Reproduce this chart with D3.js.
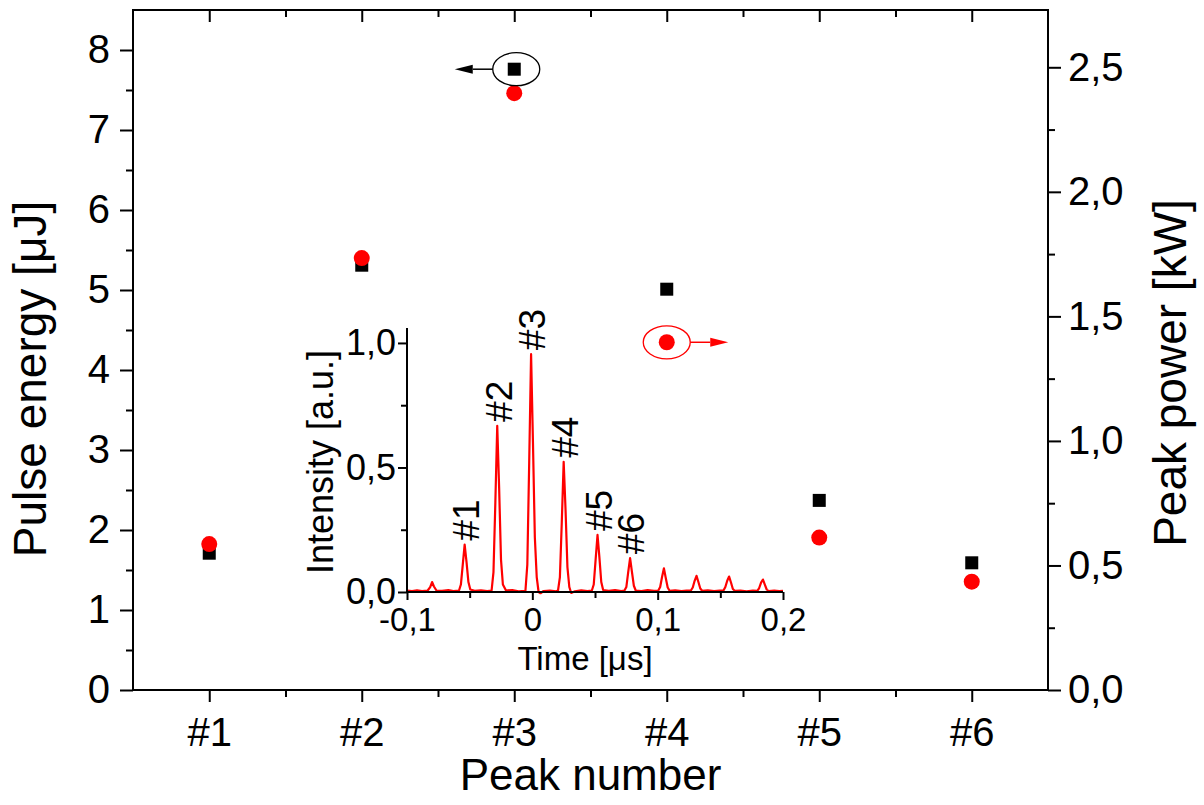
<!DOCTYPE html>
<html>
<head>
<meta charset="utf-8">
<script src="https://cdn.jsdelivr.net/npm/d3@7"></script>
<style>
  html, body { margin: 0; padding: 0; background: #fff; }
  svg text { font-family: "Liberation Sans", Arial, sans-serif; fill: #000; }
</style>
</head>
<body>
<svg id="chart" width="1204" height="805"></svg>
<script>
// Pulse energy (left axis, µJ) and peak power (right axis, kW) per peak
const categories = ["#1", "#2", "#3", "#4", "#5", "#6"];
const pulseEnergy = [1.71, 5.31, 7.76, 5.01, 2.37, 1.59];
const peakPower = [0.586, 1.734, 2.396, 1.396, 0.612, 0.435];
const energyTicks = [0, 1, 2, 3, 4, 5, 6, 7, 8];
const powerTicks = [0, 0.5, 1.0, 1.5, 2.0, 2.5];

// Inset: oscilloscope trace of the pulse train
const traceTime = [
  -0.100, -0.096, -0.092, -0.088, -0.0835, -0.0815, -0.080, -0.0785, -0.0765,
  -0.072, -0.067, -0.063, -0.0585, -0.057, -0.0555, -0.054, -0.0525, -0.051, -0.0495,
  -0.046, -0.041, -0.036, -0.0325, -0.031, -0.0295, -0.028, -0.0265, -0.025, -0.0235,
  -0.021, -0.016, -0.011, -0.0055, -0.004, -0.0025, -0.001, 0.0005, 0.002, 0.0035, 0.005, 0.0065,
  0.009, 0.014, 0.019, 0.0205, 0.022, 0.0235, 0.025, 0.0265, 0.028, 0.0295, 0.031,
  0.034, 0.039, 0.044, 0.0475, 0.049, 0.0505, 0.052, 0.0535, 0.055, 0.0565,
  0.061, 0.066, 0.071, 0.0735, 0.075, 0.0765, 0.078, 0.0795, 0.081, 0.0825,
  0.087, 0.092, 0.097, 0.1005, 0.102, 0.1035, 0.105, 0.1065, 0.108, 0.1095,
  0.114, 0.119, 0.123, 0.1265, 0.128, 0.1295, 0.131, 0.1325, 0.134, 0.1355,
  0.140, 0.145, 0.1495, 0.1525, 0.154, 0.1555, 0.157, 0.1585, 0.160, 0.1615,
  0.166, 0.171, 0.176, 0.1795, 0.181, 0.1825, 0.184, 0.1855, 0.187, 0.1885,
  0.193, 0.197, 0.200
];
const traceIntensity = [
  0.006, 0.004, 0.007, 0.004, 0.006, 0.020, 0.040, 0.022, 0.006,
  0.005, 0.008, 0.004, 0.006, 0.030, 0.110, 0.190, 0.120, 0.040, 0.010,
  0.005, 0.007, 0.004, 0.006, 0.080, 0.360, 0.667, 0.420, 0.130, 0.030,
  0.006, 0.008, 0.003, 0.005, 0.110, 0.520, 0.955, 0.600, 0.220, 0.060, 0.000, -0.005,
  0.004, 0.006, 0.003, 0.006, 0.060, 0.280, 0.523, 0.330, 0.100, 0.020, -0.004,
  0.003, 0.007, 0.004, 0.006, 0.030, 0.130, 0.229, 0.140, 0.040, 0.008,
  0.005, 0.008, 0.004, 0.006, 0.020, 0.080, 0.136, 0.080, 0.025, 0.006,
  0.004, 0.008, 0.005, 0.006, 0.020, 0.060, 0.095, 0.055, 0.018, 0.005,
  0.007, 0.004, 0.006, 0.006, 0.018, 0.045, 0.065, 0.040, 0.014, 0.005,
  0.007, 0.004, 0.006, 0.006, 0.020, 0.045, 0.062, 0.038, 0.012, 0.005,
  0.006, 0.003, 0.006, 0.005, 0.016, 0.038, 0.050, 0.030, 0.010, 0.004,
  0.006, 0.004, 0.005
];
const peakLabels = ["#1", "#2", "#3", "#4", "#5", "#6"];
const peakTimes = [-0.054, -0.028, -0.001, 0.025, 0.052, 0.078];
const peakHeights = [0.190, 0.667, 0.955, 0.523, 0.229, 0.136];
const timeTicks = [-0.1, 0, 0.1, 0.2];
const intensityTicks = [0, 0.5, 1.0];

const RED = "#ff0000";
const svg = d3.select("#chart");
svg.append("rect").attr("width", 1204).attr("height", 805).attr("fill", "#fff");

const comma1 = d => d.toFixed(1).replace(".", ",");

// ---------- main plot ----------
const plot = { left: 133, right: 1048, top: 10, bottom: 690 };
const x = d3.scaleLinear().domain([0.5, 6.5]).range([plot.left, plot.right]);
const yL = d3.scaleLinear().domain([0, 8.5]).range([plot.bottom, plot.top]);
const yR = d3.scaleLinear().domain([0, 2.73]).range([plot.bottom, plot.top]);

function styleAxis(g, fontSize) {
  g.select(".domain").remove();
  g.selectAll(".tick line").attr("stroke", "#000").attr("stroke-width", 2);
  g.selectAll(".tick text").attr("font-size", fontSize)
    .attr("font-family", "'Liberation Sans', Arial, sans-serif").attr("fill", "#000");
}

const catIdx = d3.range(1, 7);
const halfIdx = d3.range(1.5, 6, 1);

// bottom
svg.append("g").attr("transform", `translate(0,${plot.bottom})`)
  .call(d3.axisBottom(x).tickValues(catIdx).tickSize(12).tickPadding(16)
    .tickFormat(i => categories[i - 1]))
  .call(g => styleAxis(g, 40));
svg.append("g").attr("transform", `translate(0,${plot.bottom})`)
  .call(d3.axisBottom(x).tickValues(halfIdx).tickSize(7).tickFormat(""))
  .call(g => styleAxis(g, 40));
// top (inward ticks)
svg.append("g").attr("transform", `translate(0,${plot.top})`)
  .call(d3.axisTop(x).tickValues(catIdx).tickSize(-12).tickFormat(""))
  .call(g => styleAxis(g, 40));
svg.append("g").attr("transform", `translate(0,${plot.top})`)
  .call(d3.axisTop(x).tickValues(halfIdx).tickSize(-7).tickFormat(""))
  .call(g => styleAxis(g, 40));
// left
svg.append("g").attr("transform", `translate(${plot.left},0)`)
  .call(d3.axisLeft(yL).tickValues(energyTicks).tickSize(13).tickPadding(10).tickFormat(d3.format("d")))
  .call(g => styleAxis(g, 40));
svg.append("g").attr("transform", `translate(${plot.left},0)`)
  .call(d3.axisLeft(yL).tickValues(d3.range(0.5, 8.5, 1)).tickSize(7).tickFormat(""))
  .call(g => styleAxis(g, 40));
// right
svg.append("g").attr("transform", `translate(${plot.right},0)`)
  .call(d3.axisRight(yR).tickValues(powerTicks).tickSize(13).tickPadding(7).tickFormat(comma1))
  .call(g => styleAxis(g, 40));
svg.append("g").attr("transform", `translate(${plot.right},0)`)
  .call(d3.axisRight(yR).tickValues(d3.range(0.25, 2.7, 0.5)).tickSize(7).tickFormat(""))
  .call(g => styleAxis(g, 40));

// frame
svg.append("rect")
  .attr("x", plot.left).attr("y", plot.top)
  .attr("width", plot.right - plot.left).attr("height", plot.bottom - plot.top)
  .attr("fill", "none").attr("stroke", "#000").attr("stroke-width", 2);

// axis titles
svg.append("text").attr("x", (plot.left + plot.right) / 2).attr("y", 790)
  .attr("text-anchor", "middle").attr("font-size", 44).text("Peak number");
svg.append("text").attr("transform", "translate(46,379) rotate(-90)")
  .attr("text-anchor", "middle").attr("font-size", 46).text("Pulse energy [\u03BCJ]");
svg.append("text").attr("transform", "translate(1186,373) rotate(-90)")
  .attr("text-anchor", "middle").attr("font-size", 46).text("Peak power [kW]");

// ---------- inset ----------
const xi = d3.scaleLinear().domain([-0.1, 0.2]).range([407, 783]);
const yi = d3.scaleLinear().domain([0, 1.06]).range([592, 328]);

svg.append("path")
  .datum(d3.zip(traceTime, traceIntensity))
  .attr("fill", "none").attr("stroke", RED).attr("stroke-width", 2.2)
  .attr("stroke-linejoin", "round")
  .attr("d", d3.line().x(d => xi(d[0])).y(d => yi(d[1])));

const tFmt = d => d === 0 ? "0" : (d < 0 ? "-" : "") + Math.abs(d).toFixed(1).replace(".", ",");
svg.append("g").attr("transform", "translate(0,592)")
  .call(d3.axisBottom(xi).tickValues(timeTicks).tickSize(8).tickPadding(8).tickFormat(tFmt))
  .call(g => styleAxis(g, 33));
svg.append("g").attr("transform", "translate(0,592)")
  .call(d3.axisBottom(xi).tickValues([-0.05, 0.05, 0.15]).tickSize(6).tickFormat(""))
  .call(g => styleAxis(g, 33));
svg.append("g").attr("transform", "translate(407,0)")
  .call(d3.axisLeft(yi).tickValues(intensityTicks).tickSize(9).tickPadding(2).tickFormat(comma1))
  .call(g => styleAxis(g, 36));
svg.append("g").attr("transform", "translate(407,0)")
  .call(d3.axisLeft(yi).tickValues([0.25, 0.75]).tickSize(6).tickFormat(""))
  .call(g => styleAxis(g, 36));
// inset axis lines
svg.append("line").attr("x1", 407).attr("x2", 407).attr("y1", yi(0)).attr("y2", yi(1.06))
  .attr("stroke", "#000").attr("stroke-width", 2);
svg.append("line").attr("x1", 407).attr("x2", 783).attr("y1", yi(0)).attr("y2", yi(0))
  .attr("stroke", "#000").attr("stroke-width", 2);

svg.append("text").attr("x", 585).attr("y", 670).attr("text-anchor", "middle")
  .attr("font-size", 33).text("Time [\u03BCs]");
svg.append("text").attr("transform", "translate(333,462) rotate(-90)")
  .attr("text-anchor", "middle").attr("font-size", 36).text("Intensity [a.u.]");

// peak labels above each pulse
svg.append("g").selectAll("text").data(peakLabels).join("text")
  .attr("transform", (d, i) => `translate(${xi(peakTimes[i]) + 1},${yi(peakHeights[i]) - 4}) rotate(-90)`)
  .attr("dy", "0.36em").attr("font-size", 37).text(d => d);

// ---------- main markers ----------
svg.append("g").selectAll("rect").data(pulseEnergy).join("rect")
  .attr("x", (d, i) => x(i + 1) - 6.5).attr("y", d => yL(d) - 6.5)
  .attr("width", 13).attr("height", 13).attr("fill", "#000");
svg.append("g").selectAll("circle").data(peakPower).join("circle")
  .attr("cx", (d, i) => x(i + 1)).attr("cy", d => yR(d)).attr("r", 8).attr("fill", RED);

// axis indicators: ellipse around a marker with an arrow toward its axis
function indicator(cx, cy, dir, color) {
  const rx = 23.5, ry = 16.5;
  const g = svg.append("g");
  g.append("ellipse").attr("cx", cx).attr("cy", cy).attr("rx", rx).attr("ry", ry)
    .attr("fill", "none").attr("stroke", color).attr("stroke-width", 1.3);
  const x0 = cx + dir * rx, x1 = x0 + dir * 20, tip = x1 + dir * 18;
  g.append("line").attr("x1", x0).attr("x2", x1).attr("y1", cy).attr("y2", cy)
    .attr("stroke", color).attr("stroke-width", 1.5);
  g.append("path").attr("d", `M${tip},${cy} L${x1},${cy - 4.5} L${x1},${cy + 4.5} Z`).attr("fill", color);
}
indicator(x(3) + 2, yL(pulseEnergy[2]), -1, "#000");
indicator(x(4), yR(peakPower[3]), 1, RED);
</script>
</body>
</html>
